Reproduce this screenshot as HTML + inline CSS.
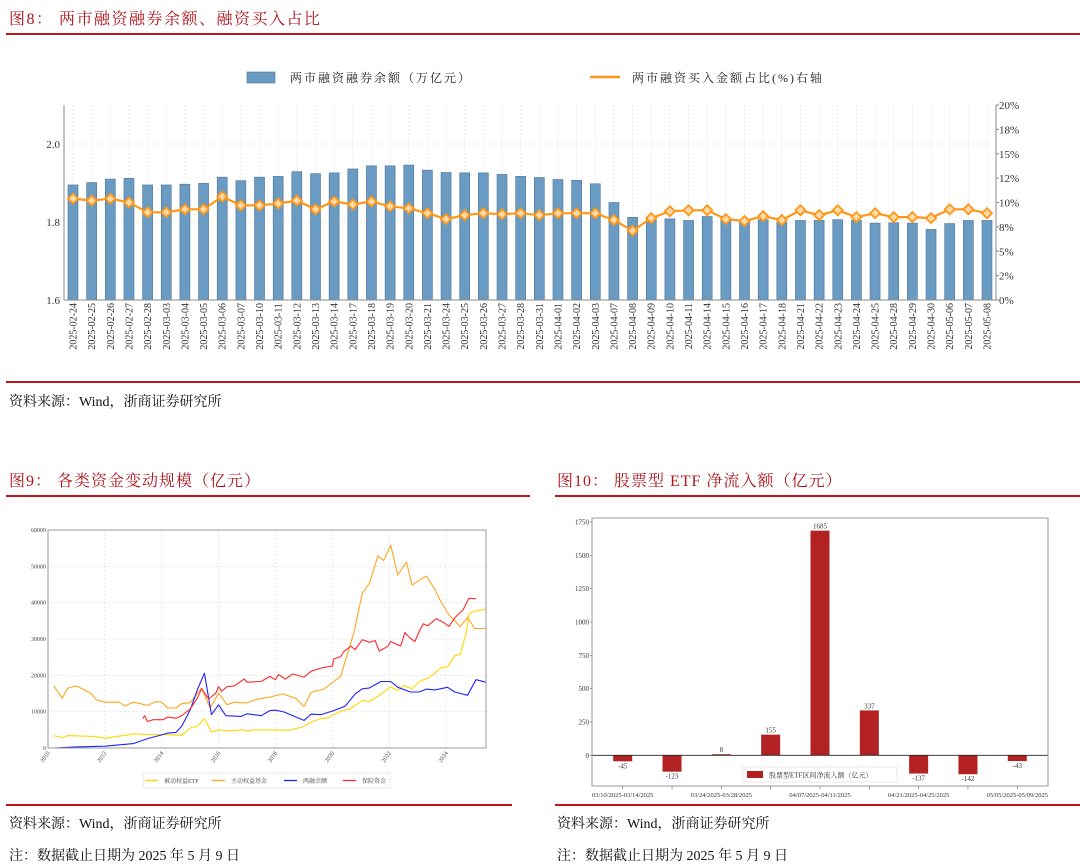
<!DOCTYPE html>
<html><head><meta charset="utf-8">
<style>
html,body{margin:0;padding:0;background:#fff;}
svg{display:block;}
text{font-family:"Liberation Serif","Noto Serif CJK SC",serif;}
</style></head>
<body>
<svg id="page" width="1080" height="867" viewBox="0 0 1080 867" xmlns="http://www.w3.org/2000/svg">
<g>
<text x="9" y="24" font-size="16" fill="#b0141c" letter-spacing="1.5">图8：  两市融资融券余额、融资买入占比</text>
<rect x="6" y="33" width="1074" height="2" fill="#c0141c"/>
</g>
<g id="c1"></g>
<rect x="6" y="381" width="1074" height="2" fill="#c0141c"/>
<text x="9" y="406" font-size="14" fill="#111">资料来源：Wind，浙商证券研究所</text>

<text x="9" y="486" font-size="16" fill="#b0141c" letter-spacing="1">图9：  各类资金变动规模（亿元）</text>
<rect x="6" y="495" width="524" height="2" fill="#c0141c"/>
<text x="557" y="486" font-size="16" fill="#b0141c" letter-spacing="1">图10：  股票型 ETF 净流入额（亿元）</text>
<rect x="555" y="495" width="525" height="2" fill="#c0141c"/>

<g id="c2"></g>
<g id="c3"></g>

<rect x="6" y="804" width="506" height="2" fill="#c0141c"/>
<rect x="555" y="804" width="525" height="2" fill="#c0141c"/>
<text x="9" y="828" font-size="14" fill="#111">资料来源：Wind，浙商证券研究所</text>
<text x="9" y="860" font-size="14" fill="#111">注：数据截止日期为 2025 年 5 月 9 日</text>
<text x="557" y="828" font-size="14" fill="#111">资料来源：Wind，浙商证券研究所</text>
<text x="557" y="860" font-size="14" fill="#111">注：数据截止日期为 2025 年 5 月 9 日</text>
</svg>
<script>
// ---------- Chart 1 data ----------
const dates1 = ["2025-02-24","2025-02-25","2025-02-26","2025-02-27","2025-02-28","2025-03-03","2025-03-04","2025-03-05","2025-03-06","2025-03-07","2025-03-10","2025-03-11","2025-03-12","2025-03-13","2025-03-14","2025-03-17","2025-03-18","2025-03-19","2025-03-20","2025-03-21","2025-03-24","2025-03-25","2025-03-26","2025-03-27","2025-03-28","2025-03-31","2025-04-01","2025-04-02","2025-04-03","2025-04-07","2025-04-08","2025-04-09","2025-04-10","2025-04-11","2025-04-14","2025-04-15","2025-04-16","2025-04-17","2025-04-18","2025-04-21","2025-04-22","2025-04-23","2025-04-24","2025-04-25","2025-04-28","2025-04-29","2025-04-30","2025-05-06","2025-05-07","2025-05-08"];
const balance1 = [1.895,1.901,1.910,1.912,1.895,1.895,1.897,1.899,1.915,1.906,1.915,1.917,1.929,1.924,1.926,1.936,1.944,1.944,1.946,1.933,1.927,1.926,1.926,1.922,1.917,1.914,1.909,1.907,1.898,1.850,1.812,1.807,1.808,1.804,1.814,1.806,1.804,1.806,1.799,1.804,1.804,1.806,1.804,1.797,1.798,1.797,1.781,1.796,1.804,1.804];
const ratio1 = [10.4,10.2,10.4,10.0,9.0,9.0,9.3,9.3,10.6,9.7,9.7,9.9,10.2,9.3,10.1,9.8,10.1,9.6,9.4,8.9,8.3,8.7,8.9,8.8,8.9,8.7,8.9,8.9,8.9,8.2,7.1,8.4,9.1,9.2,9.2,8.3,8.1,8.6,8.2,9.2,8.7,9.2,8.5,8.9,8.5,8.5,8.4,9.3,9.3,8.9];
const leftTicks1 = [1.6,1.8,2.0];
const rightTicks1 = [0,2.5,5,7.5,10,12.5,15,17.5,20];
const rightTickLabels1 = ["0%","2%","5%","8%","10%","12%","15%","18%","20%"];

// ---------- Chart 2 data ----------
const etfYears = [2010.2,2010.5,2010.7,2011.6,2012.0,2012.8,2013.0,2013.5,2014.0,2014.7,2015.0,2015.25,2015.5,2015.75,2016.0,2016.4,2016.8,2017.0,2017.25,2018.5,2018.95,2019.3,2019.6,2019.8,2020.05,2020.35,2020.6,2020.8,2021.05,2021.3,2021.6,2022.05,2022.3,2022.5,2022.8,2023.05,2023.35,2023.6,2023.8,2024.05,2024.3,2024.5,2024.7,2024.8,2025.0,2025.4];
const etfVals = [3400,2900,3400,3200,2700,3600,3900,3700,3700,3500,5500,6000,8100,4400,5000,4700,5000,4700,5000,4900,5800,7300,8100,8200,9200,10300,10700,11700,13100,12800,14200,16800,15800,17200,16300,18300,19200,20600,22000,22400,25400,25800,31600,36900,37700,38200];
const activeYears = [2010.2,2010.5,2010.7,2011.0,2011.5,2011.7,2012.0,2012.5,2012.7,2013.0,2013.25,2013.5,2013.8,2014.0,2014.2,2014.5,2014.7,2015.0,2015.4,2015.7,2016.0,2016.3,2016.55,2017.0,2017.3,2017.8,2018.25,2018.7,2019.0,2019.25,2019.7,2020.05,2020.3,2020.5,2020.75,2021.05,2021.3,2021.6,2021.8,2022.05,2022.3,2022.6,2022.8,2023.05,2023.3,2023.6,2023.8,2024.1,2024.5,2024.75,2025.0,2025.4];
const activeVals = [17100,13700,16500,17100,15100,13300,12600,12600,11600,12600,12200,11700,12800,12600,11000,11000,12200,12500,16500,11000,15100,11900,12600,12400,13300,14000,14900,13700,11400,15300,16200,18300,19900,25200,31600,42600,45300,52900,51600,55800,47600,51200,44800,46200,47300,43700,40500,36600,33400,36000,32900,32900];
const marginYears = [2010.2,2011.0,2012.0,2013.0,2013.5,2014.0,2014.2,2014.5,2014.7,2015.0,2015.25,2015.5,2015.75,2016.0,2016.25,2016.8,2017.0,2017.5,2017.8,2018.0,2018.3,2019.0,2019.25,2019.6,2020.05,2020.45,2020.8,2021.05,2021.3,2021.7,2022.05,2022.3,2022.75,2023.05,2023.3,2023.6,2024.05,2024.3,2024.75,2025.05,2025.4];
const marginVals = [0,300,500,1200,2600,3600,4100,4300,6000,10500,16000,20600,9200,11900,8900,8700,9400,8900,10300,10400,9900,7600,9300,9200,10300,11500,14900,16300,16500,18300,18300,16700,15400,15400,16200,16000,16700,15400,14500,18800,18100];
const insYears = [2013.33,2013.4,2013.5,2013.7,2014.05,2014.2,2014.5,2014.7,2015.0,2015.25,2015.4,2015.65,2015.9,2016.0,2016.1,2016.3,2016.55,2016.9,2017.0,2017.5,2017.8,2018.0,2018.1,2018.35,2018.6,2019.0,2019.25,2019.6,2020.0,2020.05,2020.3,2020.4,2020.65,2020.8,2021.05,2021.3,2021.5,2021.65,2021.95,2022.05,2022.3,2022.4,2022.55,2022.7,2022.9,2023.05,2023.2,2023.35,2023.65,2023.9,2024.1,2024.3,2024.6,2024.8,2025.05];
const insVals = [8100,8900,7300,7800,7800,8500,8200,8900,10700,13700,16300,13500,15100,16900,15600,16900,17100,19000,18100,18300,19700,18800,20200,19000,20400,19500,21100,22000,22600,24500,25200,26600,28000,27100,29800,29100,29600,26700,28000,29300,28400,28100,31800,30500,29300,32100,34200,33600,35600,34600,33500,35800,38100,41200,41100];
const yTicks2 = [0,10000,20000,30000,40000,50000,60000];
const xTicks2 = [2010,2012,2014,2016,2018,2020,2022,2024];

// ---------- Chart 3 data ----------
const weeks3 = ["03/10/2025-03/14/2025","03/17/2025-03/21/2025","03/24/2025-03/28/2025","03/31/2025-04/03/2025","04/07/2025-04/11/2025","04/14/2025-04/18/2025","04/21/2025-04/25/2025","04/28/2025-04/30/2025","05/05/2025-05/09/2025"];
const flows3 = [-45,-123,8,155,1685,337,-137,-142,-43];
const yTicks3 = [0,250,500,750,1000,1250,1500,1750];

const NS="http://www.w3.org/2000/svg";
function mk(parent,tag,attrs,txt){const e=document.createElementNS(NS,tag);for(const k in attrs)e.setAttribute(k,attrs[k]);if(txt!==undefined)e.textContent=txt;parent.appendChild(e);return e;}

// ===== Chart 1 =====
(function(){
const g=document.getElementById('c1');
const L=64,R=996,T=105,B=300;
const n=dates1.length;
const x0=73,x1=987;
const xs=i=>x0+(x1-x0)*i/(n-1);
const yl=v=>B-(v-1.6)/0.5*(B-T);
const yr=v=>B-v/20*(B-T);
for(let i=0;i<n;i++){const gl=mk(g,'line',{x1:xs(i),x2:xs(i),y1:T,y2:B,stroke:'#e4e4e4','stroke-width':0.8,'stroke-dasharray':'2,2'});

}
leftTicks1.forEach(v=>{const gl=mk(g,'line',{x1:L,x2:R,y1:yl(v),y2:yl(v),stroke:'#e4e4e4','stroke-width':0.8,'stroke-dasharray':'2,2'});


const t=mk(g,'text',{x:L-4,y:yl(v)+4,'font-size':11,'text-anchor':'end',fill:'#333'},v.toFixed(1));

});
rightTicks1.forEach((v,i)=>{const t=mk(g,'text',{x:R+3,y:yr(v)+4,'font-size':11,fill:'#333'},rightTickLabels1[i]);


mk(g,'line',{x1:R,x2:R+3,y1:yr(v),y2:yr(v),stroke:'#888'});});
balance1.forEach((v,i)=>{const b=mk(g,'rect',{x:xs(i)-5,y:yl(v),width:10,height:B-yl(v),fill:'#6a9bc3',stroke:'#4f7394','stroke-width':0.6});

});
mk(g,'line',{x1:L,x2:L,y1:T,y2:B,stroke:'#888'});
mk(g,'line',{x1:R,x2:R,y1:T,y2:B,stroke:'#888'});
mk(g,'line',{x1:L,x2:R,y1:B,y2:B,stroke:'#888'});
const pts=ratio1.map((v,i)=>xs(i).toFixed(1)+','+yr(v).toFixed(1)).join(' ');
const pl=mk(g,'polyline',{points:pts,fill:'none',stroke:'#ff9616','stroke-width':2.2});


ratio1.forEach((v,i)=>{const x=xs(i),y=yr(v);const d=mk(g,'polygon',{points:`${x},${y-5} ${x+5},${y} ${x},${y+5} ${x-5},${y}`,fill:'#ffd9a8',stroke:'#ff9616','stroke-width':1.8});

});
dates1.forEach((d,i)=>{const t=mk(g,'text',{x:0,y:0,'font-size':10,'text-anchor':'end',fill:'#333',transform:`translate(${xs(i)+3.5},303) rotate(-90)`},d);

});
const lg=mk(g,'g',{});


const l1=mk(lg,'rect',{x:247,y:72,width:28,height:11,fill:'#6a9bc3',stroke:'#4f7394','stroke-width':0.6});


mk(lg,'text',{x:290,y:82,'font-size':12,fill:'#222','letter-spacing':2},'两市融资融券余额（万亿元）');
const l2=mk(lg,'line',{x1:590,x2:620,y1:77,y2:77,stroke:'#ff9616','stroke-width':2.5});


mk(lg,'text',{x:632,y:82,'font-size':12,fill:'#222','letter-spacing':2},'两市融资买入金额占比(%)右轴');
})();

// ===== Chart 2 =====
(function(){
const g=document.getElementById('c2');
const L=48,R=486,T=530,B=748;
const xv=yr=>L+(yr-2010)*(R-L)/15.4;
const yv=v=>B-v/60000*(B-T);
mk(g,'rect',{x:L,y:T,width:R-L,height:B-T,fill:'#fff'});
xTicks2.forEach(y=>{const gl=mk(g,'line',{x1:xv(y),x2:xv(y),y1:T,y2:B,stroke:'#ddd','stroke-width':0.6,'stroke-dasharray':'2,2'});


const t=mk(g,'text',{x:0,y:0,'font-size':6,'text-anchor':'end',fill:'#444',transform:`translate(${xv(y)+2},${B+5}) rotate(-55)`},String(y));

});
yTicks2.forEach(v=>{const gl=mk(g,'line',{x1:L,x2:R,y1:yv(v),y2:yv(v),stroke:'#ddd','stroke-width':0.6,'stroke-dasharray':'2,2'});


const t=mk(g,'text',{x:L-2,y:yv(v)+2,'font-size':6,'text-anchor':'end',fill:'#444'},String(v));

});
function line(ys,vs,c,name){const p=mk(g,'polyline',{points:ys.map((y,i)=>xv(y).toFixed(1)+','+yv(vs[i]).toFixed(1)).join(' '),fill:'none',stroke:c,'stroke-width':1.1,'stroke-linejoin':'round'});

}
line(etfYears,etfVals,'#ffd700','passive-etf-line');
line(activeYears,activeVals,'#ffa520','active-fund-line');
line(marginYears,marginVals,'#2222ff','margin-balance-line');
line(insYears,insVals,'#ff2a2a','insurance-fund-line');
mk(g,'rect',{x:L,y:T,width:R-L,height:B-T,fill:'none',stroke:'#999','stroke-width':1});
const lg=mk(g,'g',{});


mk(lg,'rect',{x:143,y:773,width:247,height:15,fill:'#fff',stroke:'#ddd','stroke-width':0.6});
[['#ffd700','被动权益ETF',145],['#ffa520','主动权益基金',212],['#2222ff','两融余额',284],['#ff2a2a','保险资金',343]].forEach(e=>{
const ln=mk(lg,'line',{x1:e[2],x2:e[2]+13,y1:780.5,y2:780.5,stroke:e[0],'stroke-width':1.3});


mk(lg,'text',{x:e[2]+19,y:783,'font-size':6,fill:'#444'},e[1]);});
})();

// ===== Chart 3 =====
(function(){
const g=document.getElementById('c3');
const L=592,R=1048,T=518,B=786;
const n=weeks3.length;
const xc=i=>L+30.7+i*(R-L-61.4)/(n-1);
const yv=v=>755.3-v*(233.3/1750);
yTicks3.forEach(v=>{const t=mk(g,'text',{x:L-3,y:yv(v)+2.5,'font-size':7,'text-anchor':'end',fill:'#333'},String(v));


mk(g,'line',{x1:L-2,x2:L,y1:yv(v),y2:yv(v),stroke:'#555','stroke-width':0.6});});
flows3.forEach((v,i)=>{const y0=yv(Math.max(v,0)),h=Math.abs(yv(v)-yv(0));
const b=mk(g,'rect',{x:xc(i)-9.5,y:y0,width:19,height:Math.max(h,0.8),fill:'#b22222'});


const t=mk(g,'text',{x:xc(i),y:v>=0?yv(v)-2:yv(v)+7,'font-size':7,'text-anchor':'middle',fill:'#333'},String(v));


mk(g,'line',{x1:xc(i),x2:xc(i),y1:B,y2:B+3,stroke:'#555','stroke-width':0.6});
if(i%2===0){const tl=mk(g,'text',{x:xc(i),y:B+11,'font-size':6.5,'text-anchor':'middle',fill:'#333'},weeks3[i]);

}});
mk(g,'line',{x1:L,x2:R,y1:yv(0),y2:yv(0),stroke:'#222','stroke-width':0.8});
mk(g,'rect',{x:L,y:T,width:R-L,height:B-T,fill:'none',stroke:'#999','stroke-width':1});
const lg=mk(g,'g',{});


mk(lg,'rect',{x:743,y:767,width:154,height:15,fill:'#fff',stroke:'#ddd','stroke-width':0.6});
const sw=mk(lg,'rect',{x:747,y:771,width:16,height:7,fill:'#b22222'});


mk(lg,'text',{x:769,y:777.5,'font-size':7,fill:'#333'},'股票型ETF区间净流入额（亿元）');
})();
</script>
</body></html>
